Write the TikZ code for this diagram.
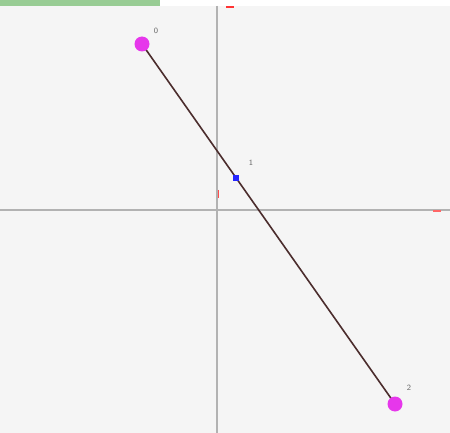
\documentclass[tikz,border=0pt]{standalone}
\usetikzlibrary{calc}

\definecolor{ptpink}{RGB}{230,55,235}
\definecolor{segbrown}{RGB}{75,45,45}
\definecolor{barGreen}{RGB}{152,204,148}

\begin{document}
\begin{tikzpicture}[x=1pt, y=-1pt, thick]

% 画布与背景
\useasboundingbox (0, 0) rectangle (450, 433);
\fill[white] (0, 0) rectangle (450, 433);
\fill[black!4] (0, 6) rectangle (450, 433);
\fill[barGreen] (0, 0) rectangle (160, 6);

% 坐标轴
\coordinate (O) at (217, 210);
\draw[black!30, line width=1.2pt] (0, 210) -- (450, 210);
\draw[black!30, line width=1.2pt] (217, 6) -- (217, 433);

% 轴上的红色小刻度
\draw[red!80, line width=1.5pt] (226, 7) -- (234, 7);
\draw[red!70, line width=1pt] (218, 190) -- (218, 198);
\draw[red!60, line width=1.5pt] (433, 211) -- (441, 211);

% 三个点：0 与 2 为端点，1 在线段上
\coordinate (P0) at (142, 44);
\coordinate (P2) at (395, 404);
\coordinate (P1) at ($(P0)!0.3715!(P2)$);

% 线段 P0P2
\draw[segbrown, line width=1.6pt] (P0) -- (P2);

% 端点（品红色圆点）
\fill[ptpink] (P0) circle [radius=7.5];
\fill[ptpink] (P2) circle [radius=7.5];

% 中间点（蓝色小方块）
\fill[blue!85] ($(P1)+(-3,-3)$) rectangle ($(P1)+(3,3)$);

% 标号
\node[black!60, font=\footnotesize\sffamily] (L0) at (156, 31) {0};
\node[black!60, font=\footnotesize\sffamily] (L1) at (251, 163) {1};
\node[black!60, font=\footnotesize\sffamily] (L2) at (409, 388) {2};

\end{tikzpicture}
\end{document}
